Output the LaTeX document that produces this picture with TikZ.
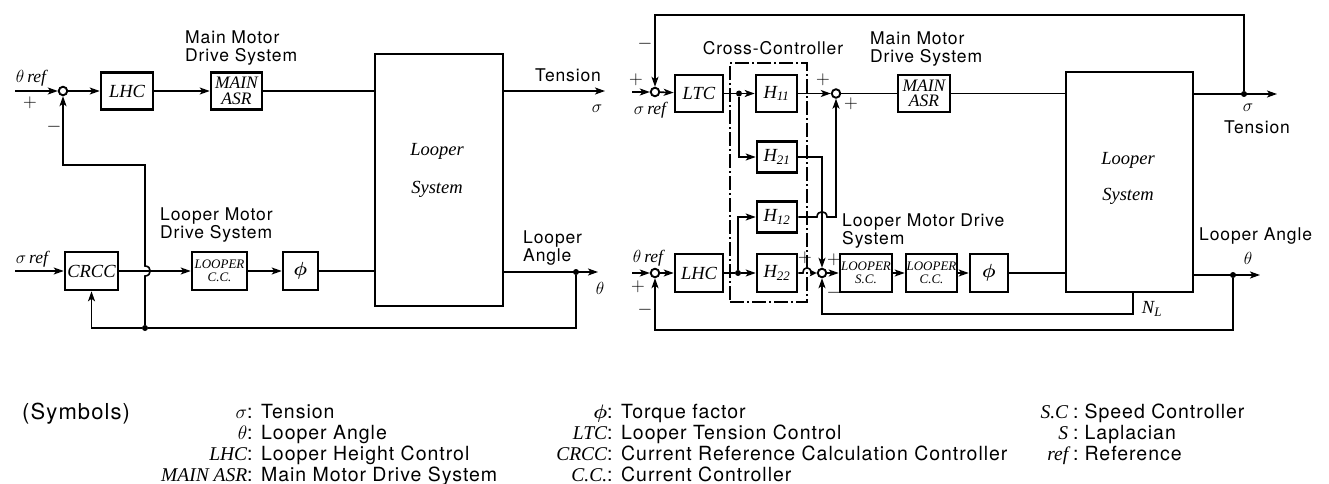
\documentclass[tikz,border=0pt]{standalone}
\usepackage{fix-cm}
\usepackage{amsmath}
\usepackage{fontspec}
\setmainfont{Liberation Serif}
\setsansfont[LetterSpace=5]{TeX Gyre Heros}
\usetikzlibrary{arrows.meta}
\newcommand\labfont{\sffamily\fontsize{17.5}{18.5}\selectfont}
\newcommand\legfont{\sffamily\fontsize{19.5}{21}\selectfont}
\newcommand\blkfont{\rmfamily\itshape\fontsize{18.5}{15}\selectfont}
\newcommand\twoblk{\rmfamily\itshape\fontsize{17.5}{15.5}\selectfont}
\newcommand\tinyblk{\rmfamily\itshape\fontsize{13}{13}\selectfont}
\newcommand\rf{{\rmfamily\itshape ref}}
\newcommand\itx{\rmfamily\itshape}
\begin{document}
\begin{tikzpicture}[x=1pt,y=-1pt,
 blk/.style={draw,line width=2.6pt,inner sep=0pt,align=center,font=\blkfont},
 sj/.style={circle,draw,line width=1.9pt,fill=white,inner sep=0pt,minimum size=8.5pt},
 jdot/.style={circle,fill,inner sep=0pt,minimum size=6pt},
 ln/.style={line width=1.6pt},
 ar/.style={ln,-{Stealth[length=10pt,width=7pt,inset=2.5pt]}},
 lab/.style={font=\labfont,align=left,inner sep=0pt},
 sgn/.style={font=\sffamily\fontsize{19}{19}\selectfont,inner sep=0pt},
 leg/.style={font=\legfont,inner sep=0pt,anchor=base west},
 cc/.style={line width=1.5pt,dash pattern=on 14pt off 3pt on 2pt off 3pt}]
\useasboundingbox (0,0) rectangle (1329,484);

% ---------------- left diagram ----------------
\node[sj] (s1) at (63,91) {};
\coordinate (i1) at (15,91);
\node[blk,minimum width=52pt,minimum height=37pt] (lhcA) at (127,91) {LHC};
\node[blk,minimum width=51pt,minimum height=37pt,font=\twoblk] (mainA) at (236.5,91) {MAIN\\ASR};
\node[blk,minimum width=128pt,minimum height=252pt] (loopA) at (439,180) {};
\node[font=\blkfont,align=center] (ltA) at (437,170.5) {Looper\\[20pt]System};
\coordinate (tA) at (605,91);
\draw[ar] (i1) -- (s1);
\draw[ar] (s1) -- (lhcA);
\draw[ar] (lhcA) -- (mainA);
\draw[ln] (mainA) -- (mainA -| loopA.west);
\draw[ar] (loopA.east |- tA) -- (tA);

\node[blk,minimum width=53pt,minimum height=38pt] (crcc) at (91.5,271) {CRCC};
\node[blk,minimum width=55pt,minimum height=38pt,font=\tinyblk] (lccA) at (219.5,271) {LOOPER\\C.C.};
\node[blk,minimum width=35pt,minimum height=38pt,font=\fontsize{19}{19}\selectfont] (phiA) at (300.5,271) {$\boldsymbol{\phi}$};
\coordinate (i2) at (15,271);
\draw[ar] (i2) -- (crcc);
\draw[ar] (crcc) -- (lccA);
\draw[ar] (lccA) -- (phiA);
\draw[ln] (phiA) -- (phiA -| loopA.west);
\node[jdot] (dA) at (576,272) {};
\coordinate (oA) at (598,272);
\draw[ar] (loopA.east |- oA) -- (oA);
\node[jdot] (dB) at (145,328) {};
\draw[ln] (dA) -- (576,328) -- (dB);
\draw[ar] (dB) -- (91.5,328) -- (crcc.south);
\draw[ar] (dB) -- (145,276) .. controls (152,276) and (152,266) .. (145,266) -- (145,165) -- (63,165) -- (s1);

\node[lab] at (31,78) {$\theta$\,\rf};
\node[sgn] at (30,103) {$+$};
\node[sgn] at (54,127) {$-$};
\node[lab,anchor=west] at (185,48) {Main Motor\\Drive System};
\node[lab] at (568,75) {Tension};
\node[lab] at (597,109) {$\sigma$};
\node[lab] at (32,259) {$\sigma$\,\rf};
\node[lab,anchor=west] at (160,225) {Looper Motor\\Drive System};
\node[lab,anchor=west] at (523,248) {Looper\\Angle};
\node[lab] at (600,288) {$\theta$};

% ---------------- right diagram ----------------
\node[draw,cc,minimum width=77pt,minimum height=239pt,inner sep=0pt] (xbox) at (768.5,182.5) {};
\node[sj] (s2) at (655,92) {};
\coordinate (i3) at (632,92);
\node[blk,minimum width=48pt,minimum height=37pt] (ltc) at (699,93.5) {LTC};
\node[jdot] (d1) at (739,93.5) {};
\node[blk,minimum width=41pt,minimum height=37pt] (h11) at (776.5,93.5) {H\textsubscript{11}};
\node[sj] (s3) at (836,93.5) {};
\node[blk,minimum width=52pt,minimum height=37pt,font=\twoblk] (mainB) at (924,93.5) {MAIN\\ASR};
\node[blk,minimum width=127pt,minimum height=220pt] (loopB) at (1129.5,182) {};
\node[font=\blkfont,align=center] (ltB) at (1128,178.5) {Looper\\[18pt]System};
\node[blk,minimum width=40pt,minimum height=31pt] (h21) at (777,157) {H\textsubscript{21}};
\node[blk,minimum width=40pt,minimum height=31pt] (h12) at (777,217) {H\textsubscript{12}};
\node[blk,minimum width=40pt,minimum height=38pt] (h22) at (777,273) {H\textsubscript{22}};
\node[sj] (s4) at (655,273) {};
\coordinate (i4) at (632,273);
\node[blk,minimum width=48pt,minimum height=38pt] (lhcB) at (699,273) {LHC};
\node[jdot] (d2) at (738,273) {};
\node[sj] (s5) at (822,273) {};
\node[blk,minimum width=52pt,minimum height=38pt,font=\tinyblk] (lsc) at (866,273) {LOOPER\\S.C.};
\node[blk,minimum width=51pt,minimum height=38pt,font=\tinyblk] (lccB) at (931.5,273) {LOOPER\\C.C.};
\node[blk,minimum width=38pt,minimum height=38pt,font=\fontsize{19}{19}\selectfont] (phiB) at (989,273) {$\boldsymbol{\phi}$};

\draw[ar] (i3) -- (s2);
\draw[ar] (s2) -- (ltc);
\draw[ln] (ltc) -- (d1);
\draw[ar] (d1) -- (h11);
\draw[ar] (h11) -- (s3);
\draw[ln] (s3) -- (mainB);
\draw[ln] (mainB) -- (mainB -| loopB.west);
\node[jdot] (d3) at (1244,94) {};
\coordinate (oB) at (1277,94);
\draw[ar] (loopB.east |- oB) -- (oB);
\draw[ar] (d3) -- (1244,15) -- (655,15) -- (s2);
\draw[ar] (d1) |- (h21);
\draw[ar] (d2) |- (h12);
\draw[ar] (i4) -- (s4);
\draw[ar] (s4) -- (lhcB);
\draw[ln] (lhcB) -- (d2);
\draw[ar] (d2) -- (h22);
\draw[ar] (h21) -| (s5);
\draw[ar] (h12.east) -- (817,217) .. controls (817,210) and (827,210) .. (827,217) -- (836,217) -- (s3);
\draw[ln,-{Stealth[length=7pt,width=6.5pt,inset=1.5pt]}] (h22.east) -- (803,273) .. controls (803,266) and (811,266) .. (811,273) -- (s5);
\draw[ar] (s5) -- (lsc);
\draw[ar] (lsc) -- (lccB);
\draw[ar] (lccB) -- (phiB);
\draw[ln] (phiB) -- (phiB -| loopB.west);
\node[jdot] (d4) at (1233,275) {};
\coordinate (oC) at (1260,275);
\draw[ar] (loopB.east |- oC) -- (oC);
\draw[ar] ([xshift=3.5pt]loopB.south) -- (1133,314) -| (s5);
\draw[ar] (d4) -- (1233,330) -| (s4);

\node[sgn] at (645,44) {$-$};
\node[sgn] at (636,80) {$+$};
\node[lab] at (650,110) {$\sigma$\,\rf};
\node[lab] at (773,48) {Cross-Controller};
\node[lab,anchor=west] at (870,49) {Main Motor\\Drive System};
\node[sgn] at (823,80) {$+$};
\node[sgn] at (851,104) {$+$};
\node[lab] at (1248,108) {$\sigma$};
\node[lab] at (1257,127) {Tension};
\node[lab,anchor=west] at (842,231) {Looper Motor Drive\\System};
\node[sgn] at (805,258) {$+$};
\node[sgn] at (834,260) {$+$};
\node[sgn] at (834,293) {$-$};
\node[lab] at (648,258) {$\theta$\,\rf};
\node[sgn] at (638,287) {$+$};
\node[sgn] at (645,310) {$-$};
\node[lab,anchor=west] at (1199,236) {Looper Angle};
\node[lab] at (1248,258) {$\theta$};
\node[font=\blkfont] at (1152,309) {N\textsubscript{L}};

% ---------------- legend ----------------
\node[leg,font=\sffamily\fontsize{22}{22}\selectfont] at (22,419) {(Symbols)};
\node[leg] at (100,418) {\makebox[147pt][r]{$\sigma$}: Tension};
\node[leg] at (100,439) {\makebox[147pt][r]{$\theta$}: Looper Angle};
\node[leg] at (100,460) {\makebox[147pt][r]{\itx LHC}: Looper Height Control};
\node[leg] at (100,481) {\makebox[147pt][r]{\itx MAIN ASR}: Main Motor Drive System};
\node[leg] at (447,418) {\makebox[160pt][r]{$\boldsymbol{\phi}$}: Torque factor};
\node[leg] at (447,439) {\makebox[160pt][r]{\itx LTC}: Looper Tension Control};
\node[leg] at (447,460) {\makebox[160pt][r]{\itx CRCC}: Current Reference Calculation Controller};
\node[leg] at (447,481) {\makebox[160pt][r]{\itx C.C.}: Current Controller};
\node[leg] at (995,418) {\makebox[73pt][r]{\itx S.C}\hspace{5pt}:\hspace{6pt}Speed Controller};
\node[leg] at (995,439) {\makebox[73pt][r]{\itx S}\hspace{5pt}:\hspace{6pt}Laplacian};
\node[leg] at (995,460) {\makebox[73pt][r]{\itx ref}\hspace{5pt}:\hspace{6pt}Reference};
\end{tikzpicture}
\end{document}
